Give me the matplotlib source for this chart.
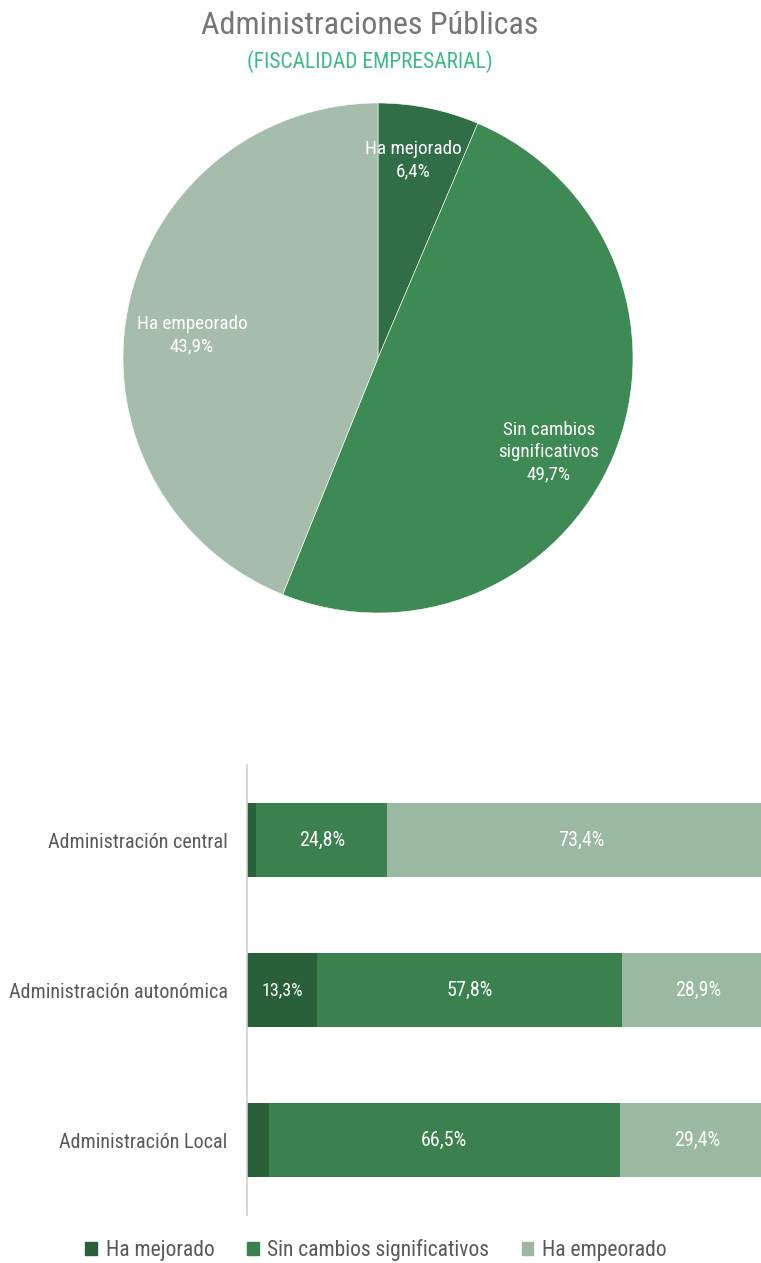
import matplotlib.pyplot as plt
from matplotlib.patches import Patch
from matplotlib import font_manager

names = {f.name for f in font_manager.fontManager.ttflist}
candidates = ['Roboto Condensed', 'Archivo Narrow', 'PT Sans Narrow', 'Liberation Sans Narrow']
base = next((c for c in candidates if c in names), 'DejaVu Sans')
plt.rcParams['font.family'] = [base, 'DejaVu Sans']

# pie data
pie_labels = ['Ha mejorado', 'Sin cambios\nsignificativos', 'Ha empeorado']
pie_values = [6.4, 49.7, 43.9]
pie_colors = ['#2f6e47', '#3d8a55', '#a7bdab']

# bar data
categories = ['Administración central', 'Administración autonómica', 'Administración Local']
mejorado = [1.8, 13.3, 4.1]
sin_cambios = [24.8, 57.8, 66.5]
empeorado = [73.4, 28.9, 29.4]
series_names = ['Ha mejorado', 'Sin cambios significativos', 'Ha empeorado']
bar_colors = ['#2a6039', '#3b8150', '#9bb8a0']

W, H = 761, 1263
fig = plt.figure(figsize=(W / 100, H / 100), dpi=100)

fig.text(370 / W, 1 - 26 / H, 'Administraciones Públicas', ha='center', va='center',
         fontsize=23, color='#767676')
fig.text(370 / W, 1 - 62 / H, '(FISCALIDAD EMPRESARIAL)', ha='center', va='center',
         fontsize=15.5, color='#3dbb85')

# pie
cx, cy, r = 378, 358, 255
ax_pie = fig.add_axes([(cx - r) / W, 1 - (cy + r) / H, 2 * r / W, 2 * r / H])
wedges, _ = ax_pie.pie(pie_values, colors=pie_colors, startangle=90, counterclock=False,
                       wedgeprops=dict(edgecolor='white', linewidth=0.4))
ax_pie.set_xlim(-1, 1)
ax_pie.set_ylim(-1, 1)
ax_pie.set_aspect('equal')
label_pos = [(413, 160), (549, 452), (192, 335)]
for lab, val, (px, py) in zip(pie_labels, pie_values, label_pos):
    txt = lab + '\n' + f'{val:.1f}%'.replace('.', ',')
    ax_pie.text((px - cx) / r, (cy - py) / r, txt, ha='center', va='center',
                color='white', fontsize=13.8, linespacing=1.3)

# stacked bars
ax = fig.add_axes([247 / W, 1 - 1215 / H, 1 - 247 / W, 450 / H])
ypos = list(range(len(categories)))
left = [0] * len(categories)
for vals, col in zip([mejorado, sin_cambios, empeorado], bar_colors):
    ax.barh(ypos, vals, left=left, height=0.49, color=col)
    for y, v, l in zip(ypos, vals, left):
        if v > 10:
            fs = 13 if v < 20 else 14.5
            ax.text(l + v / 2, y, f'{v:.1f}%'.replace('.', ','), ha='center', va='center',
                    color='white', fontsize=fs)
    left = [a + b for a, b in zip(left, vals)]
ax.set_xlim(0, 97.4)
ax.set_ylim(2.5, -0.5)
ax.set_yticks(ypos)
ax.set_yticklabels(categories, fontsize=14.5, color='#595959')
ax.tick_params(axis='y', length=0, pad=14)
ax.set_xticks([])
for s in ['top', 'right', 'bottom']:
    ax.spines[s].set_visible(False)
ax.spines['left'].set_color('#d0d0d0')
ax.spines['left'].set_linewidth(1.2)

handles = [Patch(color=c) for c in bar_colors]
fig.legend(handles, series_names, loc='center', bbox_to_anchor=(376 / W, 1 - 1250 / H),
           ncol=3, frameon=False, fontsize=15.5, handlelength=0.55, handleheight=0.55,
           handletextpad=0.4, columnspacing=1.5, labelcolor='#595959')

fig.savefig('out.png', dpi=100)
